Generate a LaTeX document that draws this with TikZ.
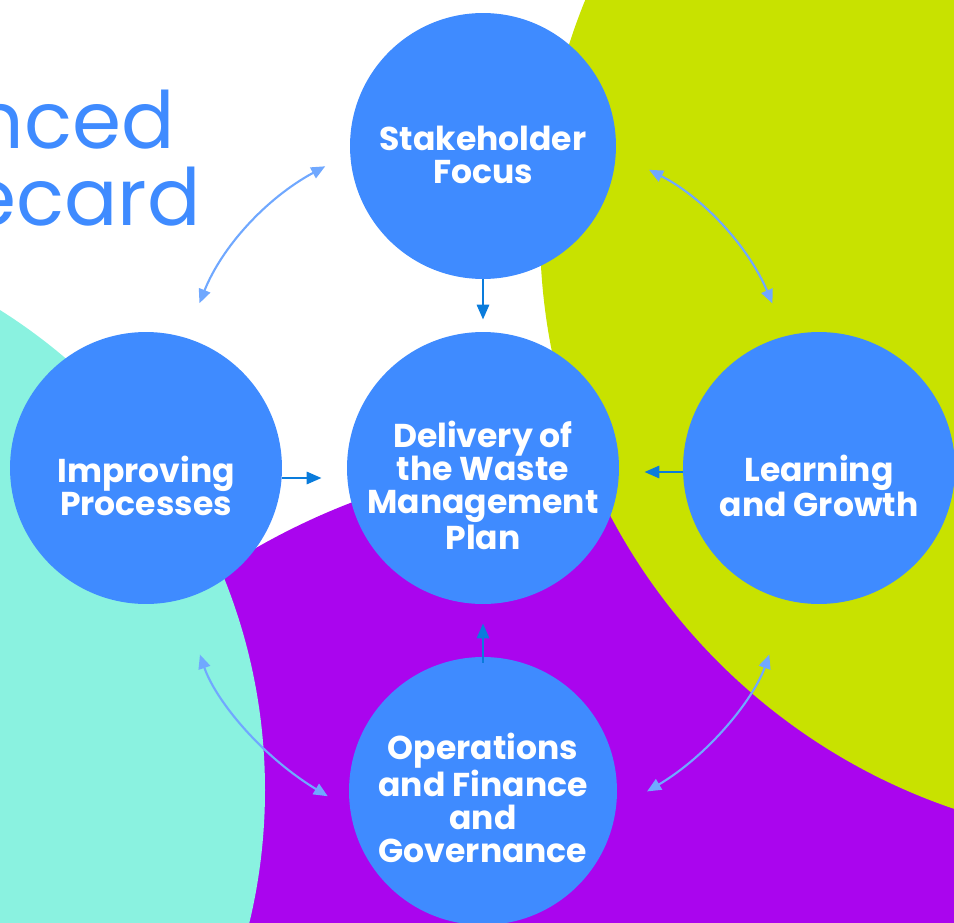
\documentclass[tikz,border=0pt]{standalone}
\usepackage{fontspec}
\setmainfont{Poppins}
\usepackage{tikz}
\usetikzlibrary{arrows.meta}
\definecolor{discblue}{RGB}{63,139,255}
\definecolor{limebg}{RGB}{200,226,0}
\definecolor{purplebg}{RGB}{170,5,238}
\definecolor{aquabg}{RGB}{138,242,224}
\definecolor{flowblue}{RGB}{10,124,220}
\definecolor{linkblue}{RGB}{112,168,255}

\begin{document}
\begin{tikzpicture}[x=0.02cm, y=0.02cm,
  disc/.style={circle, fill=discblue, minimum size=5.44cm, inner sep=0pt},
  lbl/.style={text=white, font=\bfseries\fontsize{18.8}{19}\selectfont, align=center},
  heading/.style={text=discblue, font=\fontsize{45}{50}\selectfont, inner sep=0pt, anchor=base east},
  flow/.style={-{Triangle[width=0.24cm,length=0.3cm]}, flowblue, line width=1.7pt},
  link/.style={{Triangle[width=0.24cm,length=0.28cm]}-{Triangle[width=0.24cm,length=0.28cm]}, linkblue, line width=1.2pt}]
\useasboundingbox (0,-923) rectangle (954,0);
% background blobs and title
\begin{scope}
\clip (0,-923) rectangle (954,0);
\fill[purplebg] (603,-1156) circle (700);
\fill[aquabg] (-302,-790) circle (567);
\fill[limebg] (1150,-231) circle (610);
\node[heading] (title1) at (175,-148) {Balanced};
\node[heading] (title2) at (201,-225) {Scorecard};
\end{scope}
% the five discs
\node[disc] (plan) at (483,-468) {};
\node[lbl] at ([yshift=-0.34cm]plan) {Delivery of\\the Waste\\Management\\Plan};
\node[disc, minimum size=5.32cm] (stake) at (483,-146) {};
\node[lbl] at ([yshift=-0.18cm]stake) {Stakeholder\\Focus};
\node[disc] (proc) at (146,-468) {};
\node[lbl] at ([yshift=-0.36cm]proc) {Improving\\Processes};
\node[disc] (learn) at (819,-468) {};
\node[lbl] at ([yshift=-0.36cm]learn) {Learning\\and Growth};
\node[disc, minimum size=5.36cm] (ops) at (483,-791) {};
\node[lbl] at ([yshift=-0.14cm]ops) {Operations\\and Finance\\and\\Governance};
% straight arrows into the plan
\draw[flow, shorten >=0.24cm] (stake) -- (plan);
\draw[flow, shorten >=0.5cm] ([yshift=-0.2cm]proc.east) -- ([yshift=-0.2cm]plan.west);
\draw[flow, shorten >=0.5cm] ([yshift=-0.08cm]learn.west) -- ([yshift=-0.08cm]plan.east);
\draw[flow, shorten <=-0.12cm, shorten >=0.38cm] (ops) -- (plan);
% curved links round the ring
\draw[link, shorten <=0.56cm, shorten >=0.74cm] (stake.183) to[bend right=20] (proc.73);
\draw[link, shorten <=0.74cm, shorten >=0.7cm] (stake.357) to[bend left=20] (learn.104);
\draw[link, shorten <=1.16cm, shorten >=0.52cm] (proc.285) to[bend right=20] (ops.188);
\draw[link, shorten <=0.72cm, shorten >=1.14cm] (ops.352) to[bend right=20] (learn.257);
\end{tikzpicture}
\end{document}
